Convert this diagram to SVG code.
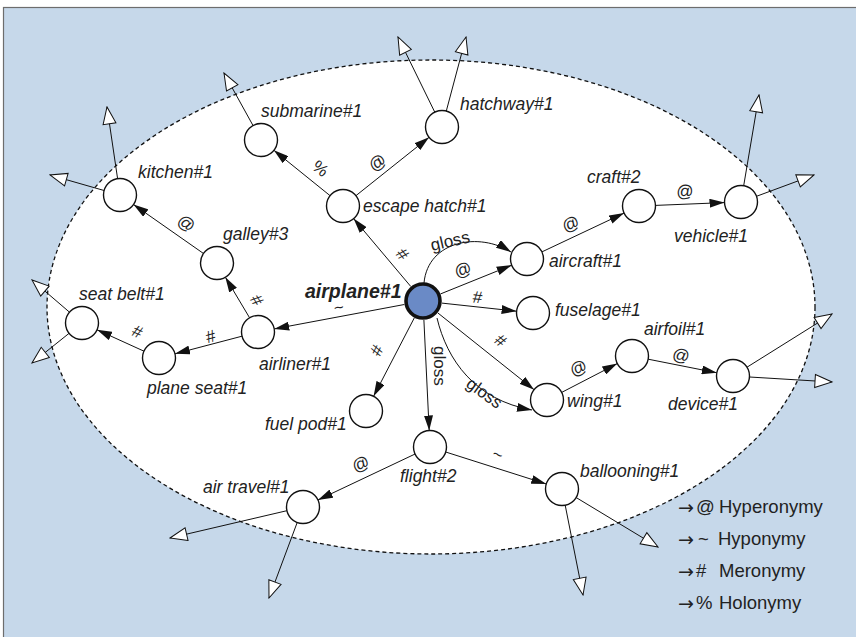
<svg xmlns="http://www.w3.org/2000/svg" width="856" height="637" viewBox="0 0 856 637">
<style>
.bg{fill:#c6d8ea;stroke:#6d6d6d;stroke-width:1.2}
.oval{fill:#fff;stroke:#111;stroke-width:1.3;stroke-dasharray:4 3}
.n{fill:#fff;stroke:#111;stroke-width:1.4}
.hub{fill:#6a8ac6;stroke:#111;stroke-width:3.6}
.lbl{font-family:"Liberation Sans",Arial,sans-serif;font-size:17.5px;font-style:italic;fill:#222}
.hubl{font-family:"Liberation Sans",Arial,sans-serif;font-size:19.5px;font-style:italic;font-weight:bold;fill:#222}
.e{fill:none;stroke:#111;stroke-width:1}
.f{marker-end:url(#fa)}
.o{marker-end:url(#oa)}
.el{font-family:"Liberation Sans",Arial,sans-serif;font-size:17px;fill:#222;text-anchor:middle}
.gl{font-family:"Liberation Sans",Arial,sans-serif;font-size:17px;fill:#222}
.lg{font-family:"Liberation Sans",Arial,sans-serif;font-size:18.5px;fill:#222}
.lga{font-family:"DejaVu Sans","Liberation Sans",sans-serif;font-size:19px;fill:#222}
</style>
<defs>
<marker id="fa" markerWidth="15" markerHeight="9" refX="15" refY="4.5" orient="auto" markerUnits="userSpaceOnUse"><path d="M0,0 L15,4.5 L0,9 z" fill="#111"/></marker>
<marker id="oa" markerWidth="20" markerHeight="16" refX="18.5" refY="8" orient="auto" markerUnits="userSpaceOnUse"><path d="M1.5,1.5 L18.5,8 L1.5,14.5 z" fill="#fff" stroke="#111" stroke-width="1"/></marker>
</defs>
<rect class="bg" x="3.5" y="7.5" width="860" height="640"/>
<ellipse class="oval" cx="431" cy="307" rx="384" ry="247"/>

<g id="connectors">
<line class="e f" x1="410.8" y1="286.5" x2="353.6" y2="218.6"/>
<line class="e f" x1="330.1" y1="195.7" x2="273.9" y2="150.3"/>
<line class="e f" x1="355.9" y1="195.7" x2="429.1" y2="137.3"/>
<line class="e f" x1="203.5" y1="253.5" x2="133.5" y2="204.5"/>
<line class="e f" x1="249.6" y1="317.8" x2="225.4" y2="277.2"/>
<line class="e f" x1="242.0" y1="336.2" x2="175.0" y2="353.8"/>
<line class="e f" x1="144.0" y1="351.2" x2="97.0" y2="329.8"/>
<line class="e f" x1="404.3" y1="304.5" x2="274.2" y2="328.9"/>
<line class="e f" x1="414.3" y1="317.9" x2="373.6" y2="396.3"/>
<line class="e f" x1="423.9" y1="320" x2="429.2" y2="430.5"/>
<line class="e f" x1="440.6" y1="293.9" x2="511.7" y2="265.2"/>
<path class="e f" d="M424,283 C428,240 480,232 511,252"/>
<line class="e f" x1="441.9" y1="303.1" x2="516.6" y2="311.2"/>
<line class="e f" x1="437.8" y1="312.9" x2="534.1" y2="389.7"/>
<path class="e f" d="M437,318 C447,360 475,400 532,410"/>
<line class="e f" x1="541.9" y1="251.9" x2="624.1" y2="213.1"/>
<line class="e f" x1="655.5" y1="205.4" x2="724.5" y2="202.6"/>
<line class="e f" x1="561.7" y1="392.4" x2="617.3" y2="363.6"/>
<line class="e f" x1="648.2" y1="359.2" x2="716.8" y2="372.8"/>
<line class="e f" x1="415.1" y1="454" x2="317.9" y2="500"/>
<line class="e f" x1="445.7" y1="452" x2="546.3" y2="484"/>

<line class="e o" x1="253" y1="125.5" x2="224" y2="73"/>
<line class="e o" x1="434.8" y1="112.2" x2="398" y2="37"/>
<line class="e o" x1="446.3" y1="111" x2="466" y2="37"/>
<line class="e o" x1="117.6" y1="178.7" x2="107" y2="107"/>
<line class="e o" x1="104.1" y1="190.5" x2="50" y2="175"/>
<line class="e o" x1="69.5" y1="312.2" x2="32" y2="280"/>
<line class="e o" x1="69.1" y1="333.3" x2="32" y2="363"/>
<line class="e o" x1="743.7" y1="185.7" x2="759" y2="95"/>
<line class="e o" x1="756.5" y1="196.3" x2="814" y2="175"/>
<line class="e o" x1="747" y1="367.2" x2="832" y2="314"/>
<line class="e o" x1="749.5" y1="377" x2="832" y2="382"/>
<line class="e o" x1="286.9" y1="510.7" x2="170" y2="538"/>
<line class="e o" x1="297.2" y1="522.5" x2="269" y2="598"/>
<line class="e o" x1="565.2" y1="505.2" x2="583" y2="595"/>
<line class="e o" x1="576.1" y1="497.5" x2="658" y2="547"/>

<text class="el" transform="translate(398,258) rotate(50)">#</text>
<text class="el" transform="translate(317,173) rotate(39)">%</text>
<text class="el" transform="translate(381,167) rotate(-39)">@</text>
<text class="el" transform="translate(183,228) rotate(35)">@</text>
<text class="el" transform="translate(252,303) rotate(59)">#</text>
<text class="el" transform="translate(212,342) rotate(-15)">#</text>
<text class="el" transform="translate(135,337) rotate(24)">#</text>
<text class="el" transform="translate(340,313) rotate(-11)">~</text>
<text class="el" transform="translate(382,353) rotate(-63)">#</text>
<text class="el" transform="translate(465,275) rotate(-22)">@</text>
<text class="el" transform="translate(477,303) rotate(6)">#</text>
<text class="el" transform="translate(497,345) rotate(39)">#</text>
<text class="el" transform="translate(573,229) rotate(-25)">@</text>
<text class="el" transform="translate(685,197) rotate(-2)">@</text>
<text class="el" transform="translate(581,373) rotate(-27)">@</text>
<text class="el" transform="translate(680,361) rotate(11)">@</text>
<text class="el" transform="translate(363,469) rotate(-25)">@</text>
<text class="el" transform="translate(496,460) rotate(18)">~</text>
<text class="gl" transform="translate(432,251) rotate(-13)">gloss</text>
<text class="gl" transform="translate(434,346) rotate(90)">gloss</text>
<text class="gl" transform="translate(465,386) rotate(36)">gloss</text>
</g>

<g id="airplane"><circle class="hub" cx="423" cy="301" r="17"/><text class="hubl" x="305" y="298">airplane#1</text></g>
<g id="escape-hatch"><circle class="n" cx="343" cy="206" r="16.5"/><text class="lbl" x="363" y="212">escape hatch#1</text></g>
<g id="submarine"><circle class="n" cx="261" cy="140" r="16.5"/><text class="lbl" x="261" y="117">submarine#1</text></g>
<g id="hatchway"><circle class="n" cx="442" cy="127" r="16.5"/><text class="lbl" x="460" y="110">hatchway#1</text></g>
<g id="kitchen"><circle class="n" cx="120" cy="195" r="16.5"/><text class="lbl" x="138" y="178">kitchen#1</text></g>
<g id="galley"><circle class="n" cx="217" cy="263" r="16.5"/><text class="lbl" x="223" y="240">galley#3</text></g>
<g id="seat-belt"><circle class="n" cx="82" cy="323" r="16.5"/><text class="lbl" x="79" y="300">seat belt#1</text></g>
<g id="plane-seat"><circle class="n" cx="159" cy="358" r="16.5"/><text class="lbl" x="147" y="394">plane seat#1</text></g>
<g id="airliner"><circle class="n" cx="258" cy="332" r="16.5"/><text class="lbl" x="259" y="370">airliner#1</text></g>
<g id="fuel-pod"><circle class="n" cx="366" cy="411" r="16.5"/><text class="lbl" x="265" y="430">fuel pod#1</text></g>
<g id="flight"><circle class="n" cx="430" cy="447" r="16.5"/><text class="lbl" x="400" y="482">flight#2</text></g>
<g id="aircraft"><circle class="n" cx="527" cy="259" r="16.5"/><text class="lbl" x="549" y="267">aircraft#1</text></g>
<g id="craft"><circle class="n" cx="639" cy="206" r="16.5"/><text class="lbl" x="587" y="183">craft#2</text></g>
<g id="vehicle"><circle class="n" cx="741" cy="202" r="16.5"/><text class="lbl" x="674" y="242">vehicle#1</text></g>
<g id="fuselage"><circle class="n" cx="533" cy="313" r="16.5"/><text class="lbl" x="555" y="316">fuselage#1</text></g>
<g id="wing"><circle class="n" cx="547" cy="400" r="16.5"/><text class="lbl" x="567" y="407">wing#1</text></g>
<g id="airfoil"><circle class="n" cx="632" cy="356" r="16.5"/><text class="lbl" x="644" y="335">airfoil#1</text></g>
<g id="device"><circle class="n" cx="733" cy="376" r="16.5"/><text class="lbl" x="668" y="410">device#1</text></g>
<g id="air-travel"><circle class="n" cx="303" cy="507" r="16.5"/><text class="lbl" x="203" y="493">air travel#1</text></g>
<g id="ballooning"><circle class="n" cx="562" cy="489" r="16.5"/><text class="lbl" x="580" y="477">ballooning#1</text></g>

<g id="legend">
<text class="lga" x="678" y="514">→</text><text class="lg" x="696" y="513">@</text><text class="lg" x="719" y="513">Hyperonymy</text>
<text class="lga" x="678" y="546">→</text><text class="lg" x="698" y="545">~</text><text class="lg" x="718" y="545">Hyponymy</text>
<text class="lga" x="678" y="578">→</text><text class="lg" x="696" y="577">#</text><text class="lg" x="719" y="577">Meronymy</text>
<text class="lga" x="678" y="610">→</text><text class="lg" x="696" y="609">%</text><text class="lg" x="719" y="609">Holonymy</text>
</g>
</svg>
